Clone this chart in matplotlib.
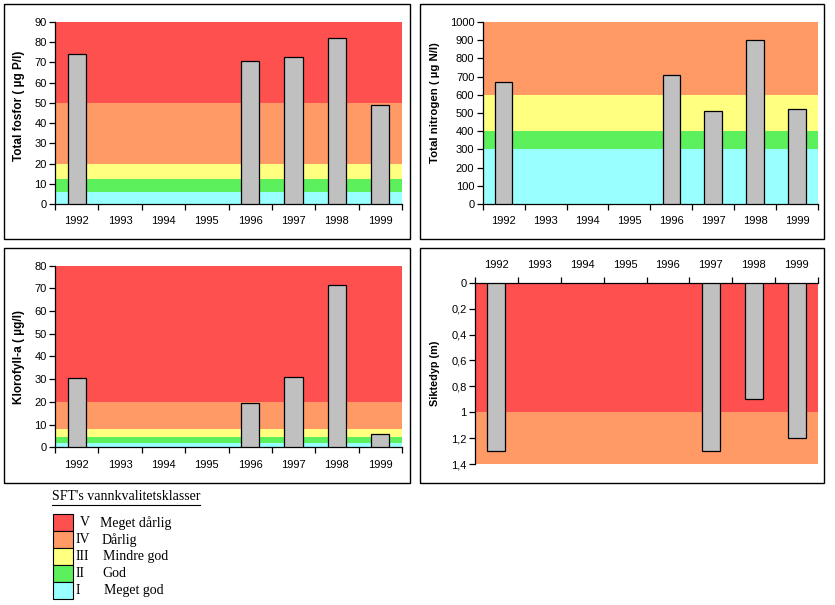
import numpy as np
import matplotlib
matplotlib.use("Agg")
import matplotlib.pyplot as plt
from matplotlib.patches import Rectangle
from matplotlib.lines import Line2D
from matplotlib.ticker import FuncFormatter, FixedLocator

# ---------------- data ----------------
years = ['1992', '1993', '1994', '1995', '1996', '1997', '1998', '1999']
fosfor = [74, np.nan, np.nan, np.nan, 70.5, 72.5, 82, 49]
nitrogen = [670, np.nan, np.nan, np.nan, 710, 510, 900, 520]
klorofyll = [30.5, np.nan, np.nan, np.nan, 19.5, 31, 71.5, 6]
siktedyp = [1.3, np.nan, np.nan, np.nan, np.nan, 1.3, 0.9, 1.2]

# class limits (lower..upper) and class index per band (0=I .. 4=V)
fosfor_limits = [0, 6, 12.5, 20, 50, 90]
fosfor_cls = [0, 1, 2, 3, 4]
nitrogen_limits = [0, 300, 400, 600, 1000]
nitrogen_cls = [0, 1, 2, 3]
klorofyll_limits = [0, 2, 4.6, 8, 20, 80]
klorofyll_cls = [0, 1, 2, 3, 4]
siktedyp_limits = [0, 1, 1.4]
siktedyp_cls = [4, 3]

class_colors = ['#99FFFF', '#5CF05C', '#FFFF80', '#FF9966', '#FF5050']
class_roman = ['I', 'II', 'III', 'IV', 'V']
class_names = ['Meget god', 'God', 'Mindre god', 'Dårlig', 'Meget dårlig']
legend_title = "SFT's vannkvalitetsklasser"

W, H = 835, 605
fig = plt.figure(figsize=(W / 100, H / 100), dpi=100)
fig.patch.set_facecolor('white')


def fx(x):
    return x / W


def fy(y):
    return 1 - y / H


def box(x0, y0, x1, y1):
    fig.add_artist(Rectangle((fx(x0), fy(y1)), fx(x1) - fx(x0), fy(y0) - fy(y1),
                             transform=fig.transFigure, fill=False,
                             edgecolor='black', linewidth=1.0))


box(3.5, 3.5, 410, 239)
box(420, 3.5, 824, 239)
box(3.5, 248, 410, 483)
box(420, 248, 824, 483)

SANS = ['Liberation Sans', 'DejaVu Sans']


def make_axes(x0, y0, x1, y1):
    return fig.add_axes([fx(x0), fy(y1), fx(x1) - fx(x0), fy(y0) - fy(y1)])


def panel(ax, values, limits, cls, ymax, yticks, ylabel, label_xy, label_size=8.5,
          top=False, fmt=None):
    n = len(years)
    pos = np.arange(n)
    for i in range(len(limits) - 1):
        ax.axhspan(limits[i], limits[i + 1], color=class_colors[cls[i]], lw=0, zorder=0)
    ax.bar(pos, values, width=0.42, color='#C0C0C0', edgecolor='black',
           linewidth=0.9, zorder=3)
    ax.set_xlim(-0.5, n - 0.5)
    if top:
        ax.set_ylim(ymax, 0)
    else:
        ax.set_ylim(0, ymax)
    ax.set_yticks(yticks)
    if fmt is not None:
        ax.yaxis.set_major_formatter(FuncFormatter(fmt))
    ax.set_xticks(pos)
    ax.set_xticklabels(years)
    ax.xaxis.set_minor_locator(FixedLocator(np.arange(-0.5, n, 1.0)))
    for s in ['top', 'bottom', 'left', 'right']:
        ax.spines[s].set_visible(False)
    ax.spines['left'].set_visible(True)
    ax.spines['left'].set_linewidth(0.9)
    if top:
        ax.xaxis.tick_top()
        ax.spines['top'].set_visible(True)
        ax.spines['top'].set_linewidth(0.9)
    else:
        ax.spines['bottom'].set_visible(True)
        ax.spines['bottom'].set_linewidth(0.9)
    ax.tick_params(axis='x', which='major', length=0, pad=9, labelsize=8)
    ax.tick_params(axis='x', which='minor', length=4, width=0.9, direction='out')
    ax.tick_params(axis='y', which='major', length=4, width=0.9, direction='out',
                   labelsize=8, pad=2)
    for lab in ax.get_xticklabels() + ax.get_yticklabels():
        lab.set_family(SANS)
    ax.set_ylabel(ylabel, fontsize=label_size, fontweight='bold', family=SANS)
    ax.yaxis.set_label_coords(label_xy[0], label_xy[1])
    ax.set_facecolor('white')


ax1 = make_axes(55, 22, 402, 204)
panel(ax1, fosfor, fosfor_limits, fosfor_cls, 90, np.arange(0, 91, 10),
      'Total fosfor ( µg P/l)', (-0.086, 0.538))

ax2 = make_axes(482.7, 22, 818, 204)
panel(ax2, nitrogen, nitrogen_limits, nitrogen_cls, 1000, np.arange(0, 1001, 100),
      'Total nitrogen ( µg N/l)', (-0.127, 0.555), label_size=8.2)

ax3 = make_axes(55, 265.7, 402, 447.3)
panel(ax3, klorofyll, klorofyll_limits, klorofyll_cls, 80, np.arange(0, 81, 10),
      'Klorofyll-a ( µg/l)', (-0.086, 0.5))


def comma(v, p):
    s = ('%.1f' % v).rstrip('0').rstrip('.')
    return s.replace('.', ',')


ax4 = make_axes(475, 282.7, 818, 464)
panel(ax4, siktedyp, siktedyp_limits, siktedyp_cls, 1.4, np.round(np.arange(0, 1.41, 0.2), 1),
      'Siktedyp (m)', (-0.102, 0.5), label_size=7.8, top=True, fmt=comma)

# ---------------- legend ----------------
SERIF = ['Liberation Serif', 'DejaVu Serif']
t = fig.text(fx(52), fy(497), legend_title, fontsize=10, family=SERIF,
             ha='left', va='center')
fig.canvas.draw()
bb = t.get_window_extent(fig.canvas.get_renderer())
fig.add_artist(Line2D([bb.x0 / W, bb.x1 / W], [fy(505), fy(505)],
                      transform=fig.transFigure, color='black', lw=0.8))

box_top = 514.3
box_h = 17.0
order = [4, 3, 2, 1, 0]
roman_x = [80, 76, 76, 76, 76]
name_x = [100, 101.5, 103, 102.5, 104]
for k, c in enumerate(order):
    y0 = box_top + k * box_h
    fig.add_artist(Rectangle((fx(53.3), fy(y0 + box_h)), fx(73.3) - fx(53.3), box_h / H,
                             transform=fig.transFigure, facecolor=class_colors[c],
                             edgecolor='black', linewidth=0.8))
    yc = y0 + box_h / 2
    fig.text(fx(roman_x[k]), fy(yc), class_roman[c], fontsize=10, family=SERIF,
             ha='left', va='center')
    fig.text(fx(name_x[k]), fy(yc), class_names[c], fontsize=10, family=SERIF,
             ha='left', va='center')

fig.savefig('out.png', dpi=100)
